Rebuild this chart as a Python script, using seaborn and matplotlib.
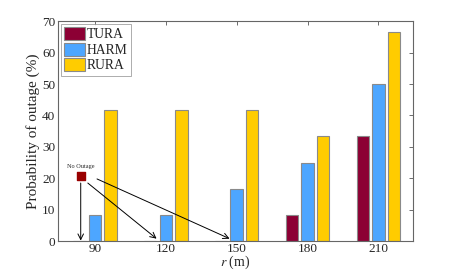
import numpy as np
import pandas as pd
import matplotlib
matplotlib.use('Agg')
import matplotlib.pyplot as plt
import seaborn as sns

#%% Dados

distances = ['90', '120', '150', '180', '210']
schemes = ['TURA', 'HARM', 'RURA']
tura = [0, 0, 0, 8.33, 33.33]
harm = [8.33, 8.33, 16.67, 25.0, 50.0]
rura = [41.67, 41.67, 41.67, 33.33, 66.67]
colors = ['#8c0034', '#4da6ff', '#ffcc00']

df = pd.DataFrame({
    'r': distances * 3,
    'Scheme': [s for s in schemes for _ in distances],
    'Prob': tura + harm + rura,
})

#%% Grafico

sns.set_style('white')
plt.rcParams['font.family'] = ['Liberation Serif', 'DejaVu Serif']
plt.rcParams['mathtext.fontset'] = 'stix'

fig, ax = plt.subplots(figsize=(4.57, 2.71), dpi=100)
fig.subplots_adjust(left=0.127, right=0.904, top=0.922, bottom=0.11)

sns.barplot(data=df, x='r', y='Prob', hue='Scheme', order=distances,
            hue_order=schemes, palette=colors, width=0.66, gap=0.2,
            edgecolor='#8a8a8a', linewidth=0.8, saturation=1, ax=ax)

ax.set_xlim(-0.52, 4.49)
ax.set_ylim(0, 70)
ax.set_yticks(range(0, 80, 10))
ax.set_xlabel('$r$ (m)', fontsize=10, labelpad=-1)
ax.set_ylabel('Probability of outage (%)', fontsize=11, labelpad=1)
ax.tick_params(direction='in', length=3, width=0.6, color='#555555',
               labelsize=9.5, top=True, right=True, pad=2)
ax.tick_params(axis='x', pad=1)
for sp in ax.spines.values():
    sp.set_color('#666666')
    sp.set_linewidth(0.8)

leg = ax.legend(loc='upper left', fontsize=9.8, frameon=True, fancybox=False,
                handlelength=1.5, handleheight=1.1, handletextpad=0.15,
                borderpad=0.25, labelspacing=0.1, borderaxespad=0.2)
leg.get_frame().set_edgecolor('#888888')
leg.get_frame().set_linewidth(0.6)

# anotacao "No Outage"
ax.scatter([-0.2], [20.6], marker='s', s=28, color='#990000', zorder=5)
ax.text(-0.2, 23.0, 'No Outage', fontsize=4.5, ha='center', va='bottom')
arrow = dict(arrowstyle='->', color='black', lw=0.7, shrinkA=0, shrinkB=0)
ax.annotate('', xy=(-0.2, 0.2), xytext=(-0.2, 18.5), arrowprops=arrow)
ax.annotate('', xy=(0.87, 0.8), xytext=(-0.1, 18.5), arrowprops=arrow)
ax.annotate('', xy=(1.9, 0.8), xytext=(0.03, 19.8), arrowprops=arrow)

fig.savefig('out.png', dpi=100)
